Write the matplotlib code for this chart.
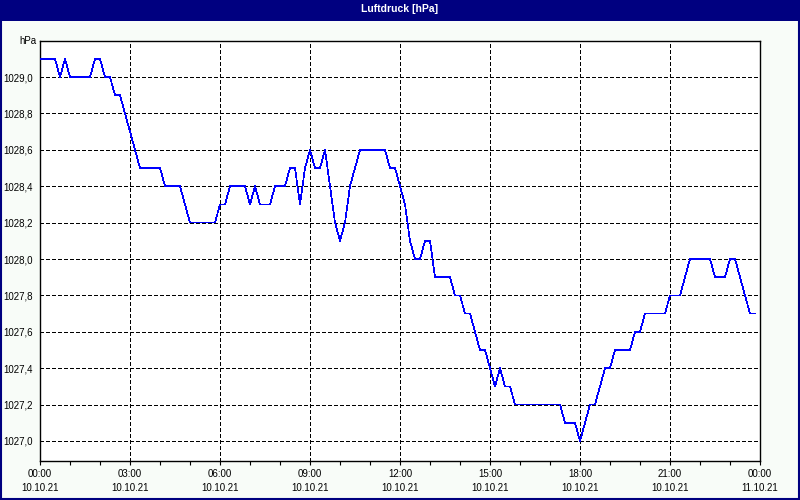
import matplotlib
matplotlib.use("Agg")
import matplotlib.pyplot as plt
from matplotlib.patches import Rectangle

# 10-minute readings, breakpoints only (minutes after 00:00 on 10.10.21)
minutes = [0, 30, 40, 50, 60, 100, 110, 120, 130, 140, 150, 160, 170, 180, 190, 200,
           240, 250, 280, 290, 300, 350, 360, 370, 380, 410, 420, 430, 440, 460, 470,
           490, 500, 510, 520, 530, 540, 550, 560, 570, 580, 590, 600, 610, 620, 630,
           640, 690, 700, 710, 720, 730, 740, 750, 760, 770, 780, 790, 820, 830, 840,
           850, 860, 870, 880, 890, 900, 910, 920, 930, 940, 950, 1040, 1050, 1070,
           1080, 1090, 1100, 1110, 1120, 1130, 1140, 1150, 1180, 1190, 1200, 1210,
           1250, 1260, 1280, 1290, 1300, 1340, 1350, 1370, 1380, 1390, 1400, 1410,
           1420, 1430]
pressure = [1029.1, 1029.1, 1029.0, 1029.1, 1029.0, 1029.0, 1029.1, 1029.1, 1029.0,
            1029.0, 1028.9, 1028.9, 1028.8, 1028.7, 1028.6, 1028.5, 1028.5, 1028.4,
            1028.4, 1028.3, 1028.2, 1028.2, 1028.3, 1028.3, 1028.4, 1028.4, 1028.3,
            1028.4, 1028.3, 1028.3, 1028.4, 1028.4, 1028.5, 1028.5, 1028.3, 1028.5,
            1028.6, 1028.5, 1028.5, 1028.6, 1028.4, 1028.2, 1028.1, 1028.2, 1028.4,
            1028.5, 1028.6, 1028.6, 1028.5, 1028.5, 1028.4, 1028.3, 1028.1, 1028.0,
            1028.0, 1028.1, 1028.1, 1027.9, 1027.9, 1027.8, 1027.8, 1027.7, 1027.7,
            1027.6, 1027.5, 1027.5, 1027.4, 1027.3, 1027.4, 1027.3, 1027.3, 1027.2,
            1027.2, 1027.1, 1027.1, 1027.0, 1027.1, 1027.2, 1027.2, 1027.3, 1027.4,
            1027.4, 1027.5, 1027.5, 1027.6, 1027.6, 1027.7, 1027.7, 1027.8, 1027.8,
            1027.9, 1028.0, 1028.0, 1027.9, 1027.9, 1028.0, 1028.0, 1027.9, 1027.8,
            1027.7, 1027.7]

y_ticks = [1027.0, 1027.2, 1027.4, 1027.6, 1027.8, 1028.0, 1028.2, 1028.4, 1028.6,
           1028.8, 1029.0]
x_hours = [0, 3, 6, 9, 12, 15, 18, 21, 24]
x_time_labels = ["00:00", "03:00", "06:00", "09:00", "12:00", "15:00", "18:00",
                 "21:00", "00:00"]
x_date_labels = ["10.10.21"] * 8 + ["11.10.21"]

NAVY = "#000080"
FONT = "Liberation Sans"

fig = plt.figure(figsize=(8, 5), dpi=100, facecolor="#F8FCF8")
ax = fig.add_axes([40 / 800, 1 - 461 / 500, 720 / 800, 420 / 500])
ax.set_facecolor("white")

hours = [m / 60 for m in minutes]
ax.plot(hours, pressure, color="#0000FF", lw=0.5, antialiased=False, zorder=3)

ax.set_xlim(0, 24)
ax.set_ylim(1026.89, 1029.198)

ax.set_yticks(y_ticks)
ax.set_yticklabels([f"{v:.1f}".replace(".", ",") for v in y_ticks],
                   fontsize=7, family=FONT)
ax.set_xticks(x_hours)
ax.set_xticklabels([f"{t}\n{d}" for t, d in zip(x_time_labels, x_date_labels)],
                   fontsize=7, family=FONT, linespacing=1.5)
ax.set_xticks(range(25), minor=True)
ax.tick_params(axis="x", which="both", length=3, width=0.8, direction="out", pad=3)
ax.tick_params(axis="y", length=0, pad=5)

ax.grid(True, which="major", color="black", lw=0.7, linestyle=(0, (4, 3)),
        antialiased=False)
for s in ax.spines.values():
    s.set_color("black")
    s.set_linewidth(1.0)

ax.text(-0.005, 1.0, "hPa", transform=ax.transAxes, ha="right", va="center",
        fontsize=7, family=FONT)

# title bar and frame
fig.patches.append(Rectangle((0, 1 - 21 / 500), 1, 21 / 500, transform=fig.transFigure,
                             facecolor=NAVY, edgecolor="none", zorder=0))
fig.patches.append(Rectangle((0.001, 0.002), 0.998, 0.996, transform=fig.transFigure,
                             facecolor="none", edgecolor=NAVY, lw=1.5, zorder=5))
fig.text(0.5, 1 - 9 / 500, "Luftdruck [hPa]", ha="center", va="center", color="white",
         fontsize=7.5, fontweight="bold", family=FONT)

fig.savefig("out.png", dpi=100, facecolor=fig.get_facecolor())
